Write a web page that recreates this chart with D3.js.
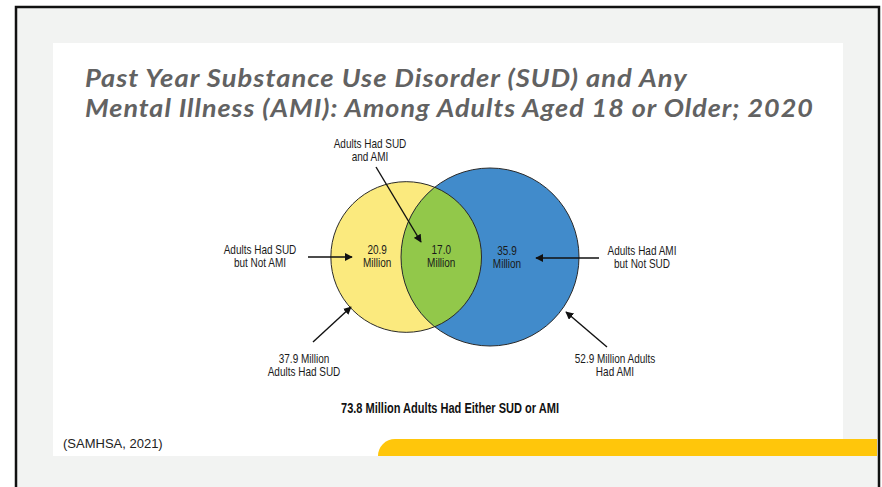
<!DOCTYPE html>
<html>
<head>
<meta charset="utf-8">
<script src="https://cdn.jsdelivr.net/npm/d3@7/dist/d3.min.js"></script>
<style>
  html, body { margin: 0; padding: 0; background: #ffffff; }
  svg { display: block; }
</style>
</head>
<body>
<svg id="chart" width="882" height="487"></svg>
<script>
// ---- data ----
const titleLines = [
  "Past Year Substance Use Disorder (SUD) and Any",
  "Mental Illness (AMI): Among Adults Aged 18 or Older; 2020"
];
const groups = ["SUD", "AMI"];
const groupTotals = [37.9, 52.9];            // millions of adults
const groupTotalLabels = [
  ["37.9 Million", "Adults Had SUD"],
  ["52.9 Million Adults", "Had AMI"]
];
const regions = ["SUD only", "SUD and AMI", "AMI only"];
const regionValues = [20.9, 17.0, 35.9];     // millions of adults
const regionLabels = [
  ["Adults Had SUD", "but Not AMI"],
  ["Adults Had SUD", "and AMI"],
  ["Adults Had AMI", "but Not SUD"]
];
const eitherTotal = 73.8;
const sourceNote = "(SAMHSA, 2021)";

// ---- styles ----
const groupColors = ["#fbea7e", "#418bcb"];
const overlapColor = "#92c84a";
const labelFont = "'Liberation Sans', Arial, sans-serif";
const narrow = 0.8;   // horizontal squeeze for the condensed label face

const svg = d3.select("#chart");
const defs = svg.append("defs");

// slide frame
svg.append("rect").attr("x", 16).attr("y", 7).attr("width", 863).attr("height", 490)
  .attr("fill", "#f2f3f2").attr("stroke", "#111").attr("stroke-width", 2.5);
svg.append("rect").attr("x", 53).attr("y", 43).attr("width", 790).attr("height", 413)
  .attr("fill", "#ffffff");
// accent band
svg.append("path")
  .attr("d", "M378,456 A17,17 0 0 1 395,439 L877,439 L877,456 Z")
  .attr("fill", "#ffc60b");

// title: italic lines, each squeezed to its set width
const titleWidths = [603, 729];
titleLines.forEach((t, i) => {
  const g = svg.append("g");
  const el = g.append("text")
    .attr("font-family", "Lato, 'Open Sans', sans-serif")
    .attr("font-style", "italic")
    .attr("font-weight", 700)
    .attr("font-size", 24.5)
    .attr("letter-spacing", 0.9)
    .attr("fill", "#626262")
    .text(t);
  const w = el.node().getComputedTextLength();
  g.attr("transform", `translate(85,${87 + i * 30}) scale(${(titleWidths[i] / w).toFixed(4)},1)`);
});

// ---- venn geometry ----
const r = d3.scaleSqrt().domain([0, d3.max(groupTotals)]).range([0, 89]);
const rA = r(groupTotals[0]), rB = r(groupTotals[1]);
const unitArea = Math.PI * rB * rB / groupTotals[1];

function lensArea(d, r1, r2) {
  if (d >= r1 + r2) return 0;
  if (d <= Math.abs(r1 - r2)) return Math.PI * Math.min(r1, r2) ** 2;
  const a1 = Math.acos((d * d + r1 * r1 - r2 * r2) / (2 * d * r1));
  const a2 = Math.acos((d * d + r2 * r2 - r1 * r1) / (2 * d * r2));
  const k = Math.sqrt((-d + r1 + r2) * (d + r1 - r2) * (d - r1 + r2) * (d + r1 + r2));
  return r1 * r1 * a1 + r2 * r2 * a2 - 0.5 * k;
}
// distance between centres so the lens area matches the overlap value
const target = regionValues[1] * unitArea;
let lo = Math.abs(rA - rB), hi = rA + rB;
for (let i = 0; i < 60; i++) {
  const mid = (lo + hi) / 2;
  if (lensArea(mid, rA, rB) > target) lo = mid; else hi = mid;
}
const dist = (lo + hi) / 2;

const cy = 257;
const cxB = 490;
const cxA = cxB - dist;

const venn = svg.append("g");
venn.append("circle").attr("cx", cxA).attr("cy", cy).attr("r", rA)
  .attr("fill", groupColors[0]);
venn.append("circle").attr("cx", cxB).attr("cy", cy).attr("r", rB)
  .attr("fill", groupColors[1]);
// overlap
defs.append("clipPath").attr("id", "clipA")
  .append("circle").attr("cx", cxA).attr("cy", cy).attr("r", rA);
venn.append("circle").attr("cx", cxB).attr("cy", cy).attr("r", rB)
  .attr("fill", overlapColor).attr("clip-path", "url(#clipA)");
// outlines
venn.selectAll("circle.outline").data([[cxA, rA], [cxB, rB]]).join("circle")
  .attr("class", "outline")
  .attr("cx", d => d[0]).attr("cy", cy).attr("r", d => d[1])
  .attr("fill", "none").attr("stroke", "#2a2a2a").attr("stroke-width", 1);

// arrow marker
defs.append("marker")
  .attr("id", "head").attr("viewBox", "0 0 10 10")
  .attr("refX", 9).attr("refY", 5)
  .attr("markerWidth", 8).attr("markerHeight", 8)
  .attr("markerUnits", "userSpaceOnUse")
  .attr("orient", "auto")
  .append("path").attr("d", "M0,0 L10,5 L0,10 Z").attr("fill", "#111");

function twoLine(g, x, y, lines, opts = {}) {
  const holder = g.append("g").attr("transform", `translate(${x},${y}) scale(${narrow},1)`);
  const t = holder.append("text")
    .attr("text-anchor", "middle")
    .attr("font-family", labelFont)
    .attr("font-size", opts.size || 12.5)
    .attr("fill", "#1a1a1a");
  lines.forEach((l, i) => {
    t.append("tspan").attr("x", 0).attr("dy", i === 0 ? 0 : (opts.lh || 14)).text(l);
  });
  return t;
}
function arrow(g, x1, y1, x2, y2) {
  g.append("line").attr("x1", x1).attr("y1", y1).attr("x2", x2).attr("y2", y2)
    .attr("stroke", "#111").attr("stroke-width", 1.4)
    .attr("marker-end", "url(#head)");
}

const ann = svg.append("g");
const fmt = d3.format(".1f");

// region values inside the circles
const regionX = [cxA - 29, (cxB - rB + cxA + rA) / 2, cxB + 17];
regionValues.forEach((v, i) => {
  twoLine(ann, regionX[i], 253.5 + (i === 2 ? 1 : 0), [fmt(v), "Million"]);
});

// region callouts
twoLine(ann, 260, 253.5, regionLabels[0]);
arrow(ann, 308, 257, 352, 257);
twoLine(ann, 370, 147.5, regionLabels[1]);
arrow(ann, 376, 167, 421, 242);
twoLine(ann, 642, 254.5, regionLabels[2]);
arrow(ann, 599, 258, 536, 258);

// group totals
twoLine(ann, 304, 362.5, groupTotalLabels[0], { lh: 13.5 });
arrow(ann, 313, 342, 351, 307);
twoLine(ann, 615, 362.5, groupTotalLabels[1]);
arrow(ann, 607, 347, 566, 312);

// combined total
const totG = ann.append("g").attr("transform", `translate(450,412.5) scale(${narrow},1)`);
totG.append("text")
  .attr("text-anchor", "middle")
  .attr("font-family", labelFont)
  .attr("font-weight", "bold")
  .attr("font-size", 13.8)
  .attr("fill", "#111")
  .text(`${fmt(eitherTotal)} Million Adults Had Either ${groups[0]} or ${groups[1]}`);

// source
svg.append("text")
  .attr("x", 63).attr("y", 447.5)
  .attr("font-family", "'Liberation Sans', Arial, sans-serif")
  .attr("font-size", 13)
  .attr("fill", "#222")
  .text(sourceNote);
</script>
</body>
</html>
